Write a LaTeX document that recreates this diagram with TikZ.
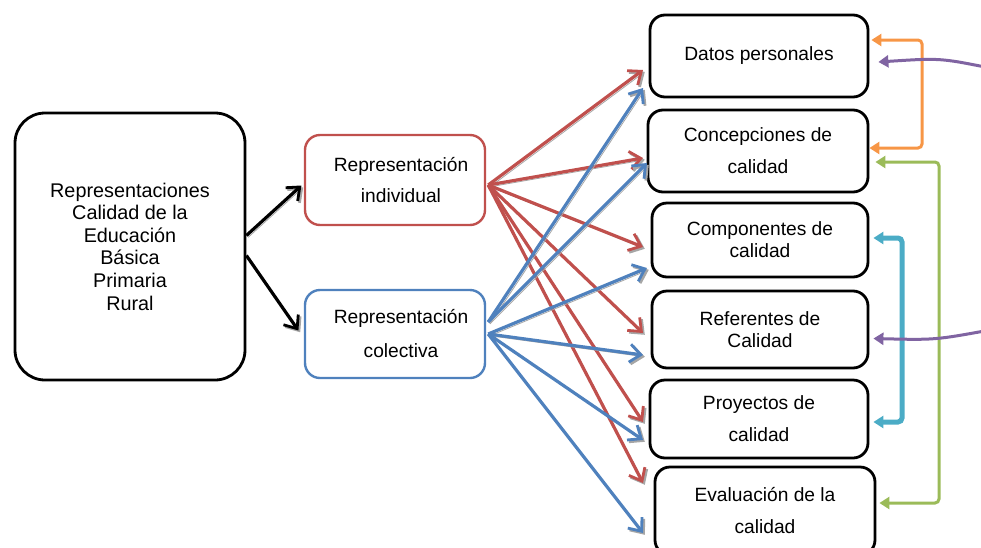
\documentclass[tikz,border=0pt]{standalone}
\usepackage{fontspec}
\setmainfont{Liberation Sans}
\usetikzlibrary{arrows.meta}
\definecolor{cred}{HTML}{C0504D}
\definecolor{cblue}{HTML}{4F81BD}
\definecolor{corange}{HTML}{F79646}
\definecolor{cgreen}{HTML}{9BBB59}
\definecolor{ccyan}{HTML}{4BACC6}
\definecolor{cpurple}{HTML}{8064A2}
\tikzset{
  box/.style={draw, rounded corners=7.5pt, line width=1.4pt, align=center, inner sep=0pt},
  bigbox/.style={box, rounded corners=15pt, minimum width=115pt, minimum height=133.5pt},
  rbox/.style={box, minimum width=109pt},
  txt/.style={font=\fontsize{9.6}{11}\selectfont},
  shadowed/.style={preaction={draw=black!35, transform canvas={shift={(0.9pt,-0.9pt)}}}},
  fan/.style={line width=1.6pt, -{Straight Barb[length=5.5pt,width=9pt,line width=1.4pt]}, shadowed},
  side/.style={line width=1.5pt, {Triangle[length=5pt,width=6pt]}-{Triangle[length=5pt,width=6pt]}, rounded corners=2pt},
}
\begin{document}
\begin{tikzpicture}[x=0.5pt,y=-0.5pt]
\useasboundingbox (0,0) rectangle (981,547);
% main box
\node[bigbox, font=\fontsize{9.9}{11.3}\selectfont] (main) at (130,246.5)
  {Representaciones\\Calidad de la\\Educación\\Básica\\Primaria\\Rural};
% middle boxes
\node[box, draw=cred, line width=1.2pt, minimum width=90pt, minimum height=45pt,
  font=\fontsize{9.6}{15.5}\selectfont] (ind) at (395,180) {\hspace*{6pt}Representación\\\hspace*{6pt}individual};
\node[box, draw=cblue, line width=1.2pt, minimum width=90pt, minimum height=44pt,
  font=\fontsize{9.6}{17}\selectfont] (col) at (395,334) {\hspace*{6pt}Representación\\\hspace*{6pt}colectiva};
% right boxes
\node[rbox, minimum height=41pt, txt] (b1) at (759,56) {Datos personales};
\node[rbox, minimum width=110pt, minimum height=41pt, font=\fontsize{9.6}{16}\selectfont] (b2) at (758,151) {Concepciones de\\calidad};
\node[rbox, minimum width=108pt, minimum height=37pt, txt] (b3) at (760,240) {Componentes de\\calidad};
\node[rbox, minimum width=108pt, minimum height=38.5pt, txt] (b4) at (760,329.5) {Referentes de\\Calidad};
\node[rbox, minimum height=39pt, font=\fontsize{9.6}{16}\selectfont] (b5) at (759,419) {Proyectos de\\calidad};
\node[rbox, minimum width=110pt, minimum height=44pt, font=\fontsize{9.6}{16}\selectfont] (b6) at (765,511) {Evaluación de la\\calidad};
% black arrows
\draw[fan, black] ([yshift=5.5pt]main.east) -- ++(55,-50);
\draw[fan, black] ([yshift=-4.5pt]main.east) -- ++(52,75);
% fan arrows
\coordinate (rs) at ([xshift=1pt,yshift=-2.5pt]ind.east);
\coordinate (bs) at ([xshift=1pt,yshift=6pt]col.east);
\coordinate (bs2) at ([xshift=1pt,yshift=0pt]col.east);
\foreach \y in {70,158,247,333,422,483}
  \draw[fan, cred] (rs) -- (643,\y);
\draw[fan, cblue] (bs) -- (643,88);
\draw[fan, cblue] (bs) -- (647,163);
\foreach \y/\x in {268/647,355/643,440/643,533/643}
  \draw[fan, cblue] (bs2) -- (\x,\y);
% side connectors
\coordinate (o1) at (922,40);
\coordinate (o2) at (922,148);
\draw[side, corange] ([xshift=1pt,yshift=8pt]b1.east) -- (o1) -- (o2) -- ([yshift=1.5pt]b2.east);
\coordinate (g1) at (939,162);
\coordinate (g2) at (939,503);
\draw[side, cgreen] ([xshift=3pt,yshift=-5.5pt]b2.east) -- (g1) -- (g2) -- ([xshift=1.5pt,yshift=4pt]b6.east);
\coordinate (c1) at (902,238);
\coordinate (c2) at (902,422);
\draw[side, ccyan, line width=2.5pt] ([xshift=2pt,yshift=1pt]b3.east) -- (c1) -- (c2) -- ([xshift=2pt,yshift=-1.5pt]b5.east);
\coordinate (p1) at (990,68);
\coordinate (p2) at (990,330);
\draw[cpurple, line width=1.5pt, -{Triangle[length=5pt,width=6pt]}] (p1) .. controls (940,58) .. ([xshift=4.5pt,yshift=-3pt]b1.east);
\draw[cpurple, line width=1.5pt, -{Triangle[length=5pt,width=6pt]}] (p2) .. controls (935,340) .. ([xshift=2pt,yshift=-4.5pt]b4.east);
\end{tikzpicture}
\end{document}
